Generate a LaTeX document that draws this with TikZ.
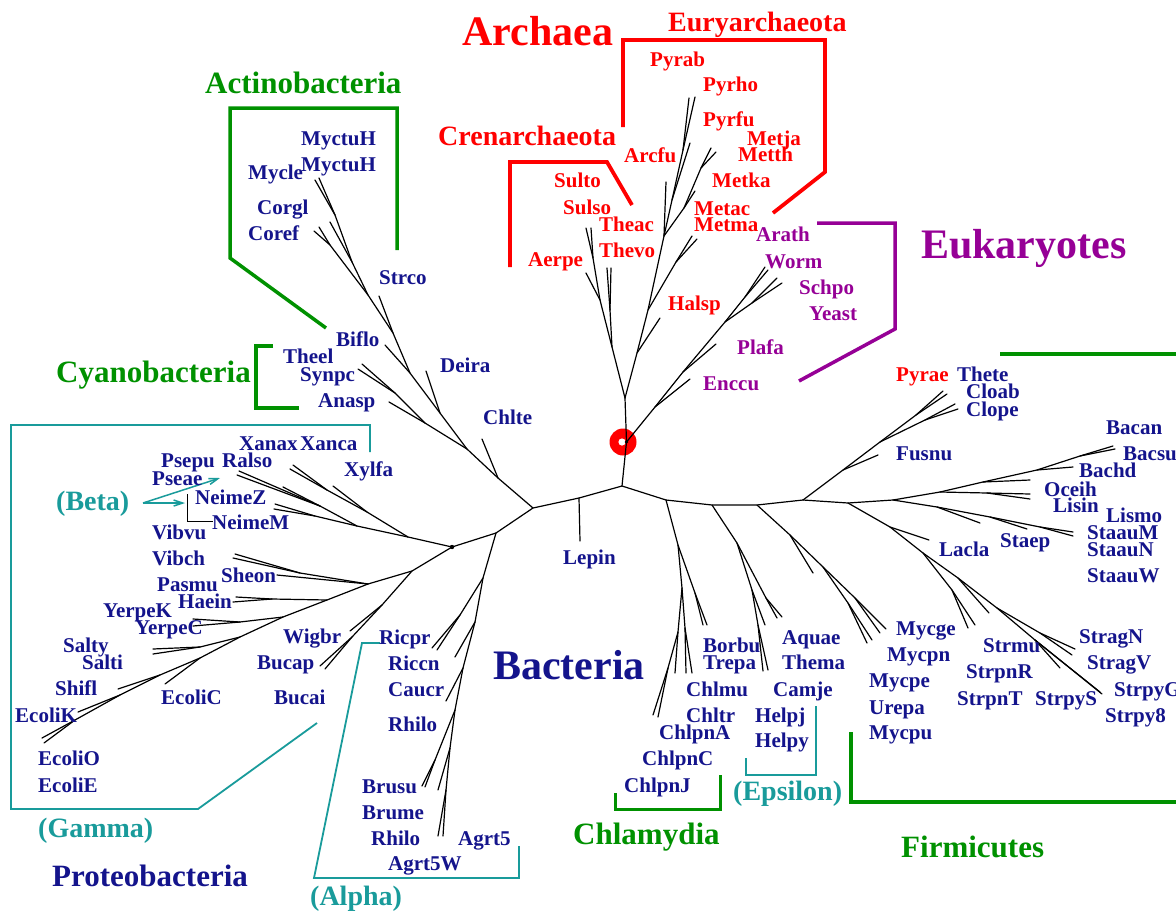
\documentclass[tikz,border=0pt]{standalone}
\usepackage{fontspec}
\setmainfont{Liberation Serif}
\usetikzlibrary{arrows.meta}
\definecolor{navyc}{RGB}{20,20,140}
\definecolor{redc}{RGB}{255,0,0}
\definecolor{greenc}{RGB}{0,145,0}
\definecolor{purplec}{RGB}{150,0,150}
\definecolor{tealc}{RGB}{25,155,155}
\begin{document}
\begin{tikzpicture}[x=1pt,y=-1pt,
  br/.style={line width=1.2pt, line cap=round, line join=round},
  lbl/.style={anchor=base west, inner sep=0pt},
  leaf/.style={lbl, text=navyc, font=\bfseries\fontsize{21}{21}\selectfont},
  leafr/.style={leaf, text=redc},
  leafp/.style={leaf, text=purplec},
  bigl/.style={lbl, font=\bfseries\fontsize{42}{42}\selectfont},
  grpl/.style={lbl, font=\bfseries\fontsize{31}{31}\selectfont},
  subl/.style={lbl, font=\bfseries\fontsize{28}{28}\selectfont},
  gbr/.style={draw=greenc, line width=3.5pt},
  rbr/.style={draw=redc, line width=3.8pt},
  pbr/.style={draw=purplec, line width=3.5pt},
  tbr/.style={draw=tealc, line width=1.8pt},
  kbr/.style={draw=black, line width=1pt},
  tarr/.style={draw=tealc, line width=1.5pt, -{Straight Barb[length=9pt,width=6pt]}}
]
\fill[white] (0,0) rectangle (1176,911);
\useasboundingbox (0,0) rectangle (1176,911);

% ---------------- centre ----------------
\coordinate (A) at (622,486);
\coordinate (Rt) at (626.5,442);
\coordinate (R) at (625,398);
\coordinate (B1) at (579,498);
\coordinate (B2) at (533,508);
\coordinate (B3) at (496,533);
\coordinate (S1) at (666,500);
\coordinate (S2) at (712,505);
\coordinate (S3) at (757,505);
\coordinate (S4) at (803,500);
\coordinate (eLepin) at (580,541);

% root marker
\fill[redc] (623,442) circle (13.5);
\fill[white] (622,442) circle (3.6);

\draw[br] (R) -- (Rt) -- (A) -- (B1) -- (B2) -- (B3);
\draw[br] (B1) -- (eLepin);
\draw[br] (A) -- (S1) -- (S2) -- (S3) -- (S4);
\fill[black] (Rt) circle (1.8);

% ---------------- Actinobacteria etc ----------------
\coordinate (Ac0) at (498,478);
\coordinate (Ac1) at (467,449);
\coordinate (Ac2) at (440,413);
\coordinate (Ac3) at (410,373);
\coordinate (Ac4) at (393,333);
\coordinate (Ac5) at (368,295);
\coordinate (Myc0) at (352,262);
\coordinate (Myc1) at (335,215);
\coordinate (Cor0) at (330,245);
\coordinate (eChlte) at (482,439);
\coordinate (eDeira) at (426,371);
\coordinate (eBiflo) at (385,345);
\coordinate (eStrco) at (379,296);
\coordinate (eMyc1) at (315,180);
\coordinate (eMyc2) at (319,178);
\coordinate (eMycle) at (330,222);
\coordinate (eCorgl) at (319,227);
\coordinate (eCoref) at (314,231);
\coordinate (Cy0) at (425,423);
\coordinate (Cy1) at (395,393);
\coordinate (eTheel) at (362,364);
\coordinate (eSynpc) at (358,369);
\coordinate (eAnasp) at (389,402);

\draw[br] (B2) -- (Ac0) -- (Ac1) -- (Ac2) -- (Ac3) -- (Ac4) -- (Ac5) -- (Myc0) -- (Myc1) -- (eMyc1);
\draw[br] (Myc1) -- (eMyc2);
\draw[br] (Myc0) -- (eMycle);
\draw[br] (Ac5) -- (Cor0) -- (eCorgl);
\draw[br] (Cor0) -- (eCoref);
\draw[br] (Ac4) -- (eStrco);
\draw[br] (Ac3) -- (eBiflo);
\draw[br] (Ac2) -- (eDeira);
\draw[br] (Ac0) -- (eChlte);
\draw[br] (Ac1) -- (Cy0) -- (Cy1) -- (eTheel);
\draw[br] (Cy1) -- (eSynpc);
\draw[br] (Cy0) -- (eAnasp);

% ---------------- Archaea ----------------
\coordinate (Cr1) at (612,347);
\coordinate (Cr2) at (600,300);
\coordinate (Tf0) at (610,310);
\coordinate (eThevo) at (607,268);
\coordinate (eTheac) at (611,268);
\coordinate (eAerpe) at (586,273);
\coordinate (Sf0) at (593,258);
\coordinate (eSulto) at (586,228);
\coordinate (eSulso) at (591,228);
\coordinate (E0) at (637,353);
\coordinate (E1) at (648,310);
\coordinate (E3) at (664,236);
\coordinate (E4) at (672,200);
\coordinate (Py0) at (683,150);
\coordinate (eHalsp) at (660,318);
\coordinate (M0) at (676,262);
\coordinate (eMetac) at (692,236);
\coordinate (eMetma) at (697,239);
\coordinate (eArcfu) at (666,182);
\coordinate (Mc0) at (684,208);
\coordinate (eMetka) at (695,191);
\coordinate (Mc1) at (701,168);
\coordinate (eMetja) at (711,148);
\coordinate (eMetth) at (716,152);
\coordinate (ePyrfu) at (690,143);
\coordinate (ePyrab) at (689,98);
\coordinate (ePyrho) at (695,97);

\draw[br] (R) -- (Cr1) -- (Cr2) -- (Sf0) -- (eSulto);
\draw[br] (Sf0) -- (eSulso);
\draw[br] (Cr2) -- (eAerpe);
\draw[br] (Cr1) -- (Tf0) -- (eThevo);
\draw[br] (Tf0) -- (eTheac);
\draw[br] (R) -- (E0) -- (E1) -- (E3) -- (E4) -- (Py0) -- (ePyrab);
\draw[br] (Py0) -- (ePyrho);
\draw[br] (E4) -- (ePyrfu);
\draw[br] (E0) -- (eHalsp);
\draw[br] (E1) -- (M0) -- (eMetac);
\draw[br] (M0) -- (eMetma);
\draw[br] (E3) -- (eArcfu);
\draw[br] (E3) -- (Mc0) -- (eMetka);
\draw[br] (Mc0) -- (Mc1) -- (eMetja);
\draw[br] (Mc1) -- (eMetth);

% ---------------- Eukaryotes ----------------
\coordinate (K1) at (655,407);
\coordinate (K2) at (683,372);
\coordinate (K3) at (725,322);
\coordinate (Ka) at (745,297);
\coordinate (Ks) at (752,303);
\coordinate (eEnccu) at (690,379);
\coordinate (ePlafa) at (716,344);
\coordinate (eArath) at (765,267);
\coordinate (eWorm) at (768,270);
\coordinate (eSchpo) at (777,278);
\coordinate (eYeast) at (782,283);
\draw[br] (Rt) -- (K1) -- (K2) -- (K3) -- (Ka) -- (eArath);
\draw[br] (Ka) -- (eWorm);
\draw[br] (K3) -- (Ks) -- (eSchpo);
\draw[br] (Ks) -- (eYeast);
\draw[br] (K1) -- (eEnccu);
\draw[br] (K2) -- (ePlafa);

% ---------------- Proteobacteria ----------------
\coordinate (P0) at (452,547);
\coordinate (X0) at (408,537);
\coordinate (Xa) at (367,512);
\coordinate (Xb) at (327,490);
\coordinate (eXylfa) at (333,486);
\coordinate (eXanax) at (293,465);
\coordinate (eXanca) at (290,469);
\coordinate (Bt0) at (357,526);
\coordinate (Ra0) at (320,506);
\coordinate (eRalso) at (239,471);
\coordinate (ePsepu) at (237,475);
\coordinate (ePseae) at (283,487);
\coordinate (Ne0) at (315,516);
\coordinate (eNeimeZ) at (275,504);
\coordinate (eNeimeM) at (274,509);
\draw[br] (B3) -- (P0) -- (X0) -- (Xa) -- (Xb) -- (eXanax);
\draw[br] (Xb) -- (eXanca);
\draw[br] (Xa) -- (eXylfa);
\draw[br] (X0) -- (Bt0) -- (Ra0) -- (eRalso);
\draw[br] (Ra0) -- (ePsepu);
\draw[br] (Ra0) -- (ePseae);
\draw[br] (Bt0) -- (Ne0) -- (eNeimeZ);
\draw[br] (Ne0) -- (eNeimeM);
\fill[black] (P0) circle (2.2);

\coordinate (G1) at (412,571);
\coordinate (G2) at (368,584);
\coordinate (G3) at (327,600);
\coordinate (G4) at (283,617);
\coordinate (G5) at (240,637);
\coordinate (G6) at (200,658);
\coordinate (G7) at (160,675);
\coordinate (G8) at (120,695);
\coordinate (G9) at (75,720);
\coordinate (eEcoliO) at (42,738);
\coordinate (eEcoliE) at (44,743);
\coordinate (eEcoliK) at (78,712);
\coordinate (eShifl) at (118,689);
\coordinate (eEcoliC) at (165,684);
\coordinate (Sa0) at (200,647);
\coordinate (eSalty) at (153,649);
\coordinate (eSalti) at (153,654);
\coordinate (Ye0) at (240,622);
\coordinate (eYerpeK) at (193,619);
\coordinate (eYerpeC) at (193,626);
\coordinate (Pa0) at (272,599);
\coordinate (ePasmu) at (236,597);
\coordinate (eHaein) at (233,602);
\coordinate (Vb0) at (300,573);
\coordinate (eVibvu) at (235,554);
\coordinate (eVibch) at (233,558);
\coordinate (eSheon) at (277,575);
\coordinate (Bu0) at (382,605);
\coordinate (eWigbr) at (350,631);
\coordinate (Bu1) at (352,637);
\coordinate (eBucap) at (320,666);
\coordinate (eBucai) at (325,669);
\draw[br] (P0) -- (G1) -- (G2) -- (G3) -- (G4) -- (G5) -- (G6) -- (G7) -- (G8) -- (G9) -- (eEcoliO);
\draw[br] (G9) -- (eEcoliE);
\draw[br] (G8) -- (eEcoliK);
\draw[br] (G7) -- (eShifl);
\draw[br] (G6) -- (eEcoliC);
\draw[br] (G5) -- (Sa0) -- (eSalty);
\draw[br] (Sa0) -- (eSalti);
\draw[br] (G4) -- (Ye0) -- (eYerpeK);
\draw[br] (Ye0) -- (eYerpeC);
\draw[br] (G3) -- (Pa0) -- (ePasmu);
\draw[br] (Pa0) -- (eHaein);
\draw[br] (G2) -- (Vb0) -- (eVibvu);
\draw[br] (Vb0) -- (eVibch);
\draw[br] (G2) -- (eSheon);
\draw[br] (G1) -- (Bu0) -- (eWigbr);
\draw[br] (Bu0) -- (Bu1) -- (eBucap);
\draw[br] (Bu1) -- (eBucai);

% alpha
\coordinate (Al0) at (483,578);
\coordinate (Ri0) at (460,615);
\coordinate (eRicpr) at (432,648);
\coordinate (eRiccn) at (437,650);
\coordinate (Al1) at (475,622);
\coordinate (eCaucr) at (455,657);
\coordinate (Al2) at (463,668);
\coordinate (eRhilo) at (446,701);
\coordinate (Al3) at (455,710);
\coordinate (Br0) at (435,760);
\coordinate (eBrusu) at (422,786);
\coordinate (eBrume) at (425,787);
\coordinate (Al4) at (450,748);
\coordinate (eRhiloB) at (438,790);
\coordinate (Ag0) at (446,790);
\coordinate (eAgrtA) at (438,836);
\coordinate (eAgrtB) at (443,836);
\draw[br] (B3) -- (Al0) -- (Al1) -- (Al2) -- (Al3) -- (Al4) -- (Ag0) -- (eAgrtA);
\draw[br] (Ag0) -- (eAgrtB);
\draw[br] (Al4) -- (eRhiloB);
\draw[br] (Al3) -- (Br0) -- (eBrusu);
\draw[br] (Br0) -- (eBrume);
\draw[br] (Al2) -- (eRhilo);
\draw[br] (Al1) -- (eCaucr);
\draw[br] (Al0) -- (Ri0) -- (eRicpr);
\draw[br] (Ri0) -- (eRiccn);

% ---------------- Spirochetes / Chlamydia ----------------
\coordinate (Sp0) at (678,545);
\coordinate (Sp1) at (695,593);
\coordinate (eBorbu) at (703,625);
\coordinate (eTrepa) at (707,625);
\coordinate (Ch1) at (682,588);
\coordinate (Ch3) at (685,628);
\coordinate (eChlmu) at (686,673);
\coordinate (eChltr) at (692,673);
\coordinate (Ch2) at (678,632);
\coordinate (eChlpnA) at (675,673);
\coordinate (Ch4) at (668,668);
\coordinate (eChlpnC) at (653,715);
\coordinate (eChlpnJ) at (658,717);
\draw[br] (S1) -- (Sp0) -- (Sp1) -- (eBorbu);
\draw[br] (Sp1) -- (eTrepa);
\draw[br] (Sp0) -- (Ch1) -- (Ch3) -- (eChlmu);
\draw[br] (Ch3) -- (eChltr);
\draw[br] (Ch1) -- (Ch2) -- (eChlpnA);
\draw[br] (Ch2) -- (Ch4) -- (eChlpnC);
\draw[br] (Ch4) -- (eChlpnJ);

% Aquificae / epsilon
\coordinate (Aq0) at (737,543);
\coordinate (Aq1) at (766,598);
\coordinate (eAquae) at (777,618);
\coordinate (eThema) at (782,617);
\coordinate (Ep0) at (752,590);
\coordinate (eCamje) at (765,625);
\coordinate (Ep1) at (758,625);
\coordinate (eHelpj) at (763,671);
\coordinate (eHelpy) at (768,670);
\draw[br] (S2) -- (Aq0) -- (Aq1) -- (eAquae);
\draw[br] (Aq1) -- (eThema);
\draw[br] (Aq0) -- (Ep0) -- (eCamje);
\draw[br] (Ep0) -- (Ep1) -- (eHelpj);
\draw[br] (Ep1) -- (eHelpy);

% Mycoplasma
\coordinate (My0) at (790,535);
\coordinate (eMp1) at (813,573);
\coordinate (My1) at (823,567);
\coordinate (My2) at (848,603);
\coordinate (eMp2) at (867,643);
\coordinate (eMp3) at (872,640);
\coordinate (My3) at (855,598);
\coordinate (eMp4) at (880,633);
\coordinate (eMp5) at (886,629);
\draw[br] (S3) -- (My0) -- (eMp1);
\draw[br] (My0) -- (My1) -- (My2) -- (eMp2);
\draw[br] (My2) -- (eMp3);
\draw[br] (My1) -- (My3) -- (eMp4);
\draw[br] (My3) -- (eMp5);

% ---------------- Firmicutes ----------------
\coordinate (Cl0) at (843,470);
\coordinate (eFusnu) at (878,455);
\coordinate (Cl1) at (880,442);
\coordinate (Cl2) at (916,415);
\coordinate (ePyrae) at (943,391);
\coordinate (eThete) at (947,394);
\coordinate (Cl3) at (925,420);
\coordinate (eCloab) at (955,404);
\coordinate (eClope) at (958,409);
\draw[br] (S4) -- (Cl0) -- (Cl1) -- (Cl2) -- (ePyrae);
\draw[br] (Cl2) -- (eThete);
\draw[br] (Cl1) -- (Cl3) -- (eCloab);
\draw[br] (Cl3) -- (eClope);
\draw[br] (Cl0) -- (eFusnu);

\coordinate (F1) at (848,503);
\coordinate (F2) at (893,500);
\coordinate (F3) at (940,492);
\coordinate (F4) at (983,482);
\coordinate (eOceih) at (1030,480);
\coordinate (F5) at (1037,470);
\coordinate (eBachd) at (1073,467);
\coordinate (F6) at (1080,456);
\coordinate (eBacan) at (1113,446);
\coordinate (eBacsu) at (1115,449);
\coordinate (Li0) at (987,493);
\coordinate (eLisin) at (1030,494);
\coordinate (eLismo) at (1030,499);
\coordinate (Stp0) at (937,507);
\coordinate (eSt1) at (980,523);
\coordinate (Stp1) at (990,517);
\coordinate (eSt2) at (1027,529);
\coordinate (Stp2) at (1040,527);
\coordinate (eSt3) at (1073,532);
\coordinate (eSt4) at (1073,536);
\draw[br] (S4) -- (F1) -- (F2) -- (F3) -- (F4) -- (F5) -- (F6) -- (eBacan);
\draw[br] (F6) -- (eBacsu);
\draw[br] (F5) -- (eBachd);
\draw[br] (F4) -- (eOceih);
\draw[br] (F3) -- (Li0) -- (eLisin);
\draw[br] (Li0) -- (eLismo);
\draw[br] (F2) -- (Stp0) -- (eSt1);
\draw[br] (Stp0) -- (Stp1) -- (eSt2);
\draw[br] (Stp1) -- (Stp2) -- (eSt3);
\draw[br] (Stp2) -- (eSt4);

\coordinate (La0) at (890,527);
\coordinate (eLacla) at (929,540);
\coordinate (St0) at (923,553);
\coordinate (St1) at (952,590);
\coordinate (eSr1) at (968,628);
\coordinate (eSr2) at (975,625);
\coordinate (St2) at (958,578);
\coordinate (eSr3) at (989,613);
\coordinate (St3) at (997,608);
\coordinate (St4) at (1040,633);
\coordinate (eSr4) at (1075,649);
\coordinate (eSr5) at (1072,655);
\coordinate (St5) at (1035,640);
\coordinate (eSr6) at (1060,668);
\coordinate (eSr7) at (1100,692);
\coordinate (eSr8) at (1102,694);
\draw[br] (F1) -- (La0) -- (eLacla);
\draw[br] (La0) -- (St0) -- (St1) -- (eSr1);
\draw[br] (St1) -- (eSr2);
\draw[br] (St0) -- (St2) -- (eSr3);
\draw[br] (St2) -- (St3) -- (St4) -- (eSr4);
\draw[br] (St4) -- (eSr5);
\draw[br] (St3) -- (St5) -- (eSr6);
\draw[br] (St5) -- (eSr7);
\draw[br] (St5) -- (eSr8);

% ---------------- brackets ----------------
\draw[gbr] (397,250) -- (397,108) -- (230,108) -- (230,258) -- (326,328);
\draw[gbr] (273,346) -- (256,346) -- (256,408) -- (299,408);
\draw[rbr] (510,267) -- (510,162) -- (607,162) -- (632,205);
\draw[rbr] (623,127) -- (623,40) -- (825,40) -- (825,172) -- (773,213);
\draw[pbr] (817,223) -- (895,223) -- (895,329) -- (799,381);
\draw[gbr] (1000,354) -- (1180,354);
\draw[gbr] (851,732) -- (851,802) -- (1180,802);
\draw[gbr, line width=3pt] (615,793) -- (615,809) -- (720,809) -- (720,775);
\draw[tbr] (370,452) -- (370,425) -- (11,425) -- (11,809) -- (198,809) -- (317,723);
\draw[tbr] (380,643) -- (362,643) -- (314,878) -- (519,878) -- (519,846);
\draw[tbr] (746,758) -- (746,775) -- (816,775) -- (816,706);
\coordinate (betaS) at (143,503);
\coordinate (betaT1) at (220,478);
\coordinate (betaT2) at (185,503);
\draw[tarr] (betaS) -- (betaT1);
\draw[tarr] (betaS) -- (betaT2);
\draw[kbr] (187,494) -- (187,521) -- (213,521);

% ---------------- labels ----------------
\node[leaf] (lMyctuHa) at (301,145) {MyctuH};
\node[leaf] (lMyctuHb) at (301,171) {MyctuH};
\node[leaf] (lMycle) at (248,179) {Mycle};
\node[leaf] (lCorgl) at (257,214) {Corgl};
\node[leaf] (lCoref) at (248,240) {Coref};
\node[leaf] (lStrco) at (379,284) {Strco};
\node[leaf] (lBiflo) at (336,346) {Biflo};
\node[leaf] (lTheel) at (283,363) {Theel};
\node[leaf] (lSynpc) at (300,381) {Synpc};
\node[leaf] (lAnasp) at (318,407) {Anasp};
\node[leaf] (lDeira) at (440,372) {Deira};
\node[leaf] (lChlte) at (483,424) {Chlte};
\node[leaf] (lXanax) at (239,450) {Xanax};
\node[leaf] (lXanca) at (300,450) {Xanca};
\node[leaf] (lPsepu) at (161,467) {Psepu};
\node[leaf] (lRalso) at (222,467) {Ralso};
\node[leaf] (lPseae) at (152,485) {Pseae};
\node[leaf] (lXylfa) at (344,476) {Xylfa};
\node[leaf] (lNeimeZ) at (195,504) {NeimeZ};
\node[leaf] (lNeimeM) at (212,529) {NeimeM};
\node[leaf] (lVibvu) at (152,539) {Vibvu};
\node[leaf] (lVibch) at (152,565) {Vibch};
\node[leaf] (lSheon) at (221,582) {Sheon};
\node[leaf] (lPasmu) at (157,591) {Pasmu};
\node[leaf] (lHaein) at (178,608) {Haein};
\node[leaf] (lYerpeK) at (103,617) {YerpeK};
\node[leaf] (lYerpeC) at (135,634) {YerpeC};
\node[leaf] (lSalty) at (63,652) {Salty};
\node[leaf] (lSalti) at (82,669) {Salti};
\node[leaf] (lWigbr) at (283,643) {Wigbr};
\node[leaf] (lBucap) at (257,669) {Bucap};
\node[leaf] (lShifl) at (55,695) {Shifl};
\node[leaf] (lEcoliC) at (161,704) {EcoliC};
\node[leaf] (lBucai) at (274,704) {Bucai};
\node[leaf] (lEcoliK) at (15,722) {EcoliK};
\node[leaf] (lEcoliO) at (38,765) {EcoliO};
\node[leaf] (lEcoliE) at (38,792) {EcoliE};
\node[leaf] (lRicpr) at (379,644) {Ricpr};
\node[leaf] (lRiccn) at (388,670) {Riccn};
\node[leaf] (lCaucr) at (388,696) {Caucr};
\node[leaf] (lRhiloa) at (388,731) {Rhilo};
\node[leaf] (lBrusu) at (362,793) {Brusu};
\node[leaf] (lBrume) at (362,819) {Brume};
\node[leaf] (lRhilob) at (371,845) {Rhilo};
\node[leaf] (lAgrt5) at (458,845) {Agrt5};
\node[leaf] (lAgrt5W) at (388,870) {Agrt5W};
\node[leaf] (lLepin) at (563,564) {Lepin};
\node[leaf] (lBorbu) at (703,652) {Borbu};
\node[leaf] (lTrepa) at (703,669) {Trepa};
\node[leaf] (lAquae) at (782,644) {Aquae};
\node[leaf] (lThema) at (782,669) {Thema};
\node[leaf] (lChlmu) at (686,696) {Chlmu};
\node[leaf] (lCamje) at (773,696) {Camje};
\node[leaf] (lChltr) at (686,722) {Chltr};
\node[leaf] (lHelpj) at (755,722) {Helpj};
\node[leaf] (lChlpnA) at (659,739) {ChlpnA};
\node[leaf] (lHelpy) at (755,747) {Helpy};
\node[leaf] (lChlpnC) at (642,765) {ChlpnC};
\node[leaf] (lChlpnJ) at (624,792) {ChlpnJ};
\node[leafr] (lPyrae) at (896,381) {Pyrae};
\node[leaf] (lThete) at (957,381) {Thete};
\node[leaf] (lCloab) at (966,398) {Cloab};
\node[leaf] (lClope) at (966,416) {Clope};
\node[leaf] (lBacan) at (1106,434) {Bacan};
\node[leaf] (lFusnu) at (896,460) {Fusnu};
\node[leaf] (lBacsu) at (1123,460) {Bacsu};
\node[leaf] (lBachd) at (1079,477) {Bachd};
\node[leaf] (lOceih) at (1044,496) {Oceih};
\node[leaf] (lLisin) at (1053,512) {Lisin};
\node[leaf] (lLismo) at (1106,522) {Lismo};
\node[leaf] (lStaauM) at (1087,539) {StaauM};
\node[leaf] (lStaep) at (1000,547) {Staep};
\node[leaf] (lLacla) at (939,556) {Lacla};
\node[leaf] (lStaauN) at (1087,556) {StaauN};
\node[leaf] (lStaauW) at (1087,582) {StaauW};
\node[leaf] (lMycge) at (896,635) {Mycge};
\node[leaf] (lStragN) at (1079,643) {StragN};
\node[leaf] (lMycpn) at (887,661) {Mycpn};
\node[leaf] (lStrmu) at (983,652) {Strmu};
\node[leaf] (lStragV) at (1087,669) {StragV};
\node[leaf] (lStrpnR) at (966,678) {StrpnR};
\node[leaf] (lMycpe) at (869,687) {Mycpe};
\node[leaf] (lStrpyG) at (1114,696) {StrpyG};
\node[leaf] (lStrpnT) at (957,705) {StrpnT};
\node[leaf] (lStrpyS) at (1035,705) {StrpyS};
\node[leaf] (lUrepa) at (869,714) {Urepa};
\node[leaf] (lStrpy8) at (1105,722) {Strpy8};
\node[leaf] (lMycpu) at (869,739) {Mycpu};

\node[leafr] (lPyrab) at (650,66) {Pyrab};
\node[leafr] (lPyrho) at (703,91) {Pyrho};
\node[leafr] (lPyrfu) at (703,126) {Pyrfu};
\node[leafr] (lMetja) at (747,145) {Metja};
\node[leafr] (lMetth) at (738,161) {Metth};
\node[leafr] (lArcfu) at (624,162) {Arcfu};
\node[leafr] (lMetka) at (712,187) {Metka};
\node[leafr] (lSulto) at (554,187) {Sulto};
\node[leafr] (lSulso) at (563,214) {Sulso};
\node[leafr] (lTheac) at (599,231) {Theac};
\node[leafr] (lMetac) at (694,215) {Metac};
\node[leafr] (lMetma) at (694,231) {Metma};
\node[leafr] (lThevo) at (599,257) {Thevo};
\node[leafr] (lAerpe) at (528,266) {Aerpe};
\node[leafr] (lHalsp) at (668,310) {Halsp};
\node[leafp] (lArath) at (756,241) {Arath};
\node[leafp] (lWorm) at (765,268) {Worm};
\node[leafp] (lSchpo) at (799,294) {Schpo};
\node[leafp] (lYeast) at (809,320) {Yeast};
\node[leafp] (lPlafa) at (737,354) {Plafa};
\node[leafp] (lEnccu) at (703,390) {Enccu};

\node[bigl, text=redc] (tArchaea) at (462,45) {Archaea};
\node[bigl, text=purplec] (tEuk) at (921,258) {Eukaryotes};
\node[bigl, text=navyc] (tBacteria) at (493,679) {Bacteria};
\node[grpl, text=greenc] (tActino) at (205,93) {Actinobacteria};
\node[grpl, text=greenc] (tCyano) at (56,382) {Cyanobacteria};
\node[grpl, text=navyc] (tProteo) at (52,886) {Proteobacteria};
\node[grpl, text=greenc] (tChlam) at (573,844) {Chlamydia};
\node[grpl, text=greenc] (tFirm) at (901,857) {Firmicutes};
\node[subl, text=redc] (tEury) at (668,31) {Euryarchaeota};
\node[subl, text=redc] (tCren) at (438,145) {Crenarchaeota};
\node[subl, text=tealc] (tBeta) at (56,510) {(Beta)};
\node[subl, text=tealc] (tGamma) at (38,837) {(Gamma)};
\node[subl, text=tealc] (tAlpha) at (310,905) {(Alpha)};
\node[subl, text=tealc] (tEps) at (733,800) {(Epsilon)};
\end{tikzpicture}
\end{document}
